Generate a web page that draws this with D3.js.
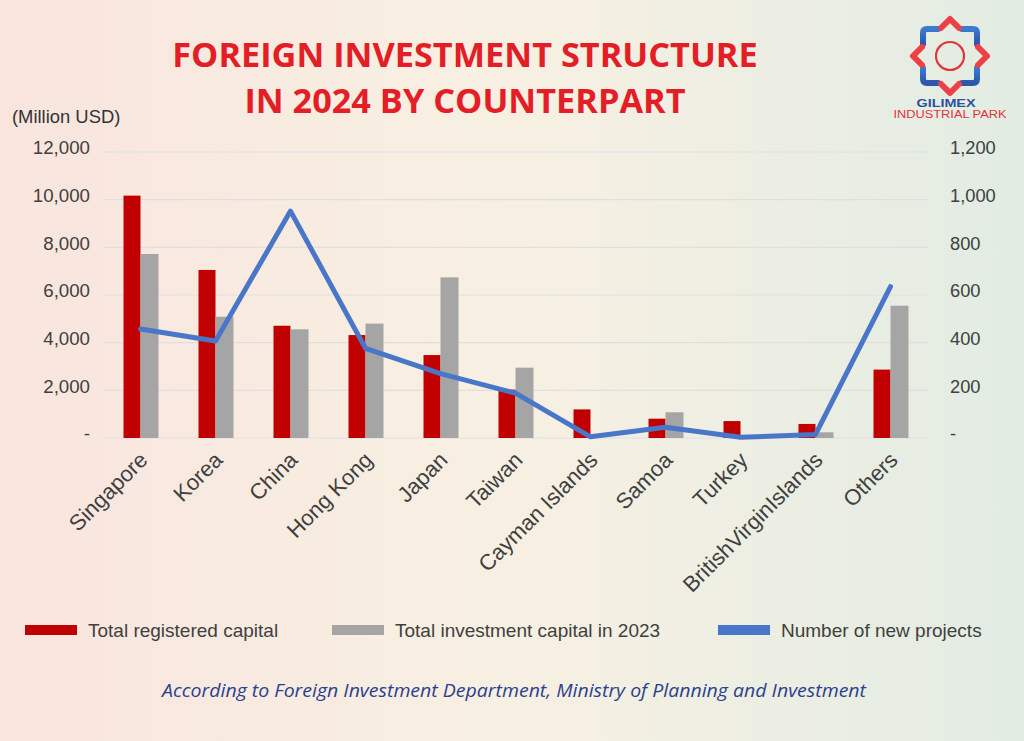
<!DOCTYPE html>
<html><head><meta charset="utf-8">
<script src="https://cdn.jsdelivr.net/npm/d3@7"></script>
<style>html,body{margin:0;padding:0;}svg{display:block;}</style>
</head><body>
<svg id="chart" width="1024" height="741"></svg>
<script>
const categories = ["Singapore","Korea","China","Hong Kong","Japan","Taiwan","Cayman Islands","Samoa","Turkey","BritishVirginIslands","Others"];
const registered = [10170, 7050, 4710, 4320, 3480, 2030, 1200, 810, 710, 590, 2870];
const invest2023 = [7720, 5090, 4560, 4800, 6740, 2950, 0, 1080, 0, 240, 5550];
const newProjects = [457, 407, 952, 376, 270, 188, 5, 45, 3, 15, 635];
const leftTicks = [0, 2000, 4000, 6000, 8000, 10000, 12000];
const rightTicks = [0, 200, 400, 600, 800, 1000, 1200];
const seriesNames = ["Total registered capital","Total investment capital in 2023","Number of new projects"];
const colors = ["#C00000","#A5A5A5","#4A76C9"];

const svg = d3.select("#chart");
const defs = svg.append("defs");
const grad = defs.append("linearGradient").attr("id","bg").attr("x1","0").attr("x2","1").attr("y1","0").attr("y2","0");
grad.append("stop").attr("offset","0").attr("stop-color","#F9E5DE");
grad.append("stop").attr("offset","0.5").attr("stop-color","#F7F0E2");
grad.append("stop").attr("offset","1").attr("stop-color","#E2ECE3");
svg.append("rect").attr("width",1024).attr("height",741).attr("fill","url(#bg)");
const bgrad = defs.append("linearGradient").attr("id","blueg").attr("x1","0").attr("x2","0").attr("y1","0").attr("y2","1");
bgrad.append("stop").attr("offset","0").attr("stop-color","#3B7BD0");
bgrad.append("stop").attr("offset","1").attr("stop-color","#2D56A8");

const pLeft = 103, pRight = 928, pTop = 152, pBottom = 438;
const x = d3.scaleBand().domain(categories).range([pLeft,pRight]).paddingInner(0).paddingOuter(0);
const yL = d3.scaleLinear().domain([0,12000]).range([pBottom,pTop]);
const yR = d3.scaleLinear().domain([0,1200]).range([pBottom,pTop]);
const bw = 17;
const sans = "Liberation Sans, Arial, sans-serif";

// gridlines
svg.append("g").selectAll("line").data(leftTicks).join("line")
  .attr("x1",pLeft).attr("x2",pRight).attr("y1",d=>yL(d)).attr("y2",d=>yL(d))
  .attr("stroke","#DFDFE3").attr("stroke-width",1.2);

const fmt = d => d === 0 ? "-" : d3.format(",")(d);
const axisL = d3.axisLeft(yL).tickValues(leftTicks).tickFormat(fmt).tickSize(0).tickPadding(13);
const gL = svg.append("g").attr("transform",`translate(${pLeft},0)`).call(axisL);
gL.select(".domain").remove();
gL.selectAll("text").attr("font-family",sans).attr("font-size",18.7).attr("fill","#404040").attr("dy","0.1em");
const axisR = d3.axisRight(yR).tickValues(rightTicks).tickFormat(fmt).tickSize(0).tickPadding(22);
const gR = svg.append("g").attr("transform",`translate(${pRight},0)`).call(axisR);
gR.select(".domain").remove();
gR.selectAll("text").attr("font-family",sans).attr("font-size",18.3).attr("fill","#404040").attr("dy","0.1em");

svg.append("text").attr("x",12).attr("y",123).text("(Million USD)")
  .attr("font-family",sans).attr("font-size",18.4).attr("fill","#333");

// bars
const cx = d => x(d) + x.bandwidth()/2;
svg.append("g").selectAll("rect").data(categories).join("rect")
  .attr("x",d=>cx(d)-bw).attr("width",bw)
  .attr("y",(d,i)=>yL(registered[i])).attr("height",(d,i)=>pBottom-yL(registered[i]))
  .attr("fill",colors[0]);
svg.append("g").selectAll("rect").data(categories).join("rect")
  .attr("x",d=>cx(d)).attr("width",bw+1)
  .attr("y",(d,i)=>yL(invest2023[i])).attr("height",(d,i)=>pBottom-yL(invest2023[i]))
  .attr("fill",colors[1]);

// line
const line = d3.line().x((d,i)=>cx(categories[i])).y(d=>yR(d));
svg.append("path").datum(newProjects).attr("d",line).attr("fill","none")
  .attr("stroke",colors[2]).attr("stroke-width",5).attr("stroke-linejoin","round").attr("stroke-linecap","round");

// category labels
svg.append("g").selectAll("text").data(categories).join("text")
  .attr("transform",d=>`translate(${cx(d)+3},${pBottom+18}) rotate(-45)`)
  .attr("text-anchor","end").attr("dy","0.35em")
  .attr("font-family",sans).attr("font-size",22).attr("fill","#404040")
  .text(d=>d);

// title
const title = svg.append("text").attr("text-anchor","middle").attr("fill","#E31E26")
  .attr("font-family","Open Sans, sans-serif").attr("font-weight",700).attr("font-size",34.3);
title.append("tspan").attr("x",465).attr("y",67).text("FOREIGN INVESTMENT STRUCTURE");
title.append("tspan").attr("x",465).attr("y",113).text("IN 2024 BY COUNTERPART");

// legend
const legX = [25, 332, 718];
const leg = svg.append("g").selectAll("g").data(seriesNames).join("g")
  .attr("transform",(d,i)=>`translate(${legX[i]},0)`);
leg.append("rect").attr("x",0).attr("y",625).attr("width",52).attr("height",10).attr("fill",(d,i)=>colors[i]);
leg.append("text").attr("x",63).attr("y",637).text(d=>d)
  .attr("font-family",sans).attr("font-size",19).attr("fill","#404040");

// source
svg.append("text").attr("x",514).attr("y",697).attr("text-anchor","middle")
  .attr("font-family","Open Sans, sans-serif").attr("font-style","italic").attr("font-size",18)
  .attr("fill","#2B3F8F").attr("textLength",704).attr("lengthAdjust","spacingAndGlyphs")
  .text("According to Foreign Investment Department, Ministry of Planning and Investment");

// logo
const lg = svg.append("g").attr("transform","translate(950,56)");
lg.append("circle").attr("r",14).attr("fill","none").attr("stroke","#E3343C").attr("stroke-width",2.2);
[[-1,-1],[1,-1],[1,1],[-1,1]].forEach(([sx,sy])=>{
  lg.append("path").attr("d",`M${sx*12},${sy*27} L${sx*23},${sy*27} Q${sx*27},${sy*27} ${sx*27},${sy*23} L${sx*27},${sy*12}`)
    .attr("fill","none").attr("stroke","url(#blueg)").attr("stroke-width",6).attr("stroke-linecap","round");
});
[[0,-1],[1,0],[0,1],[-1,0]].forEach(([dx,dy])=>{
  const px = dx*37, py = dy*37;
  let d;
  if (dy!==0) d = `M${-9},${py - dy*9} L0,${py} L9,${py - dy*9}`;
  else d = `M${px - dx*9},-9 L${px},0 L${px - dx*9},9`;
  lg.append("path").attr("d",d).attr("fill","none").attr("stroke","#EE3E46").attr("stroke-width",6).attr("stroke-linecap","round").attr("stroke-linejoin","round");
});
svg.append("text").attr("x",946).attr("y",106.5).attr("text-anchor","middle").text("GILIMEX")
  .attr("font-family",sans).attr("font-weight",700).attr("font-size",11.5).attr("fill","#2E4FA0")
  .attr("textLength",59).attr("lengthAdjust","spacingAndGlyphs");
svg.append("text").attr("x",950).attr("y",118).attr("text-anchor","middle").text("INDUSTRIAL PARK")
  .attr("font-family",sans).attr("font-size",10).attr("fill","#E3343C")
  .attr("textLength",113).attr("lengthAdjust","spacingAndGlyphs");
</script>
</body></html>
